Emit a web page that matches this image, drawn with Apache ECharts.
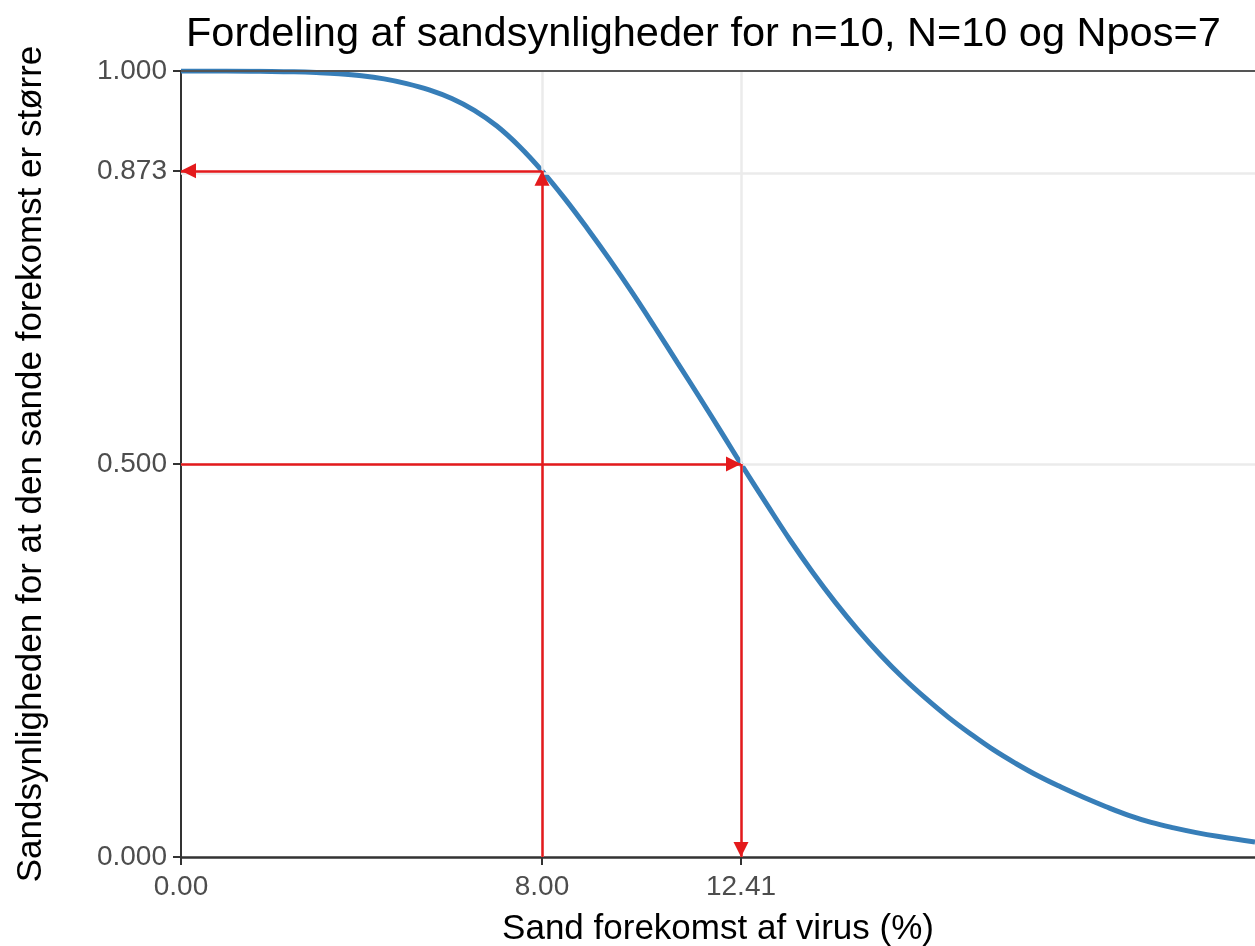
<!DOCTYPE html>
<html>
<head>
<meta charset="utf-8">
<script src="https://cdn.jsdelivr.net/npm/echarts@6/dist/echarts.min.js"></script>
<style>
  body { margin: 0; background: #fff; }
  #chart { width: 1255px; height: 946px; }
</style>
</head>
<body>
<div id="chart"></div>
<script>
    // sand forekomst (%) og sandsynlighed for at den sande forekomst er større
    var prevalence = [0, 1, 2, 2.5, 3, 3.5, 4, 4.5, 5, 5.5, 6, 6.5, 7, 7.5, 8, 8.5, 9, 9.5, 10, 10.5, 11, 11.5, 12, 12.41,
        13, 13.5, 14, 14.5, 15, 15.5, 16, 16.5, 17, 17.5, 18, 18.5, 19, 19.5, 20, 20.5, 21, 21.5, 22, 22.5, 23, 23.8];
    var probGreater = [1.000, 1.000, 0.9995, 0.999, 0.998, 0.9965, 0.994, 0.990, 0.984, 0.976, 0.965, 0.950, 0.930, 0.904,
        0.873, 0.838, 0.800, 0.760, 0.718, 0.674, 0.629, 0.584, 0.538, 0.500,
        0.447, 0.403, 0.362, 0.324, 0.289, 0.257, 0.228, 0.202, 0.178, 0.1565, 0.1365, 0.119, 0.103, 0.089,
        0.076, 0.064, 0.053, 0.044, 0.037, 0.031, 0.026, 0.019];

    var xTicks = [0, 8, 12.41];
    var yTicks = [0, 0.5, 0.873, 1];

    // punkterne som pilene peger på
    var refX = 8, refY = 0.873;
    var medX = 12.41, medY = 0.5;

    var xMax = 23.8;

    var curve = prevalence.map(function (x, i) {
        return [x, probGreater[i]];
    });

    var myChart = echarts.init(document.getElementById("chart"));

    myChart.setOption({
        animation: false,
        title: {
            text: "Fordeling af sandsynligheder for n=10, N=10 og Npos=7",
            left: 181,
            top: 9,
            textStyle: {
                fontFamily: "Liberation Sans",
                fontSize: 41.5,
                fontWeight: "normal",
                color: "#000"
            }
        },
        grid: {
            left: 181,
            right: 0,
            top: 71,
            bottom: 89,
            containLabel: false,
            outerBoundsMode: "none"
        },
        xAxis: {
            type: "value",
            min: 0,
            max: xMax,
            name: "Sand forekomst af virus (%)",
            nameLocation: "middle",
            nameGap: 55,
            nameTextStyle: {
                fontFamily: "Liberation Sans",
                fontSize: 35,
                color: "#000"
            },
            axisLine: {
                lineStyle: { color: "#333", width: 2.5 }
            },
            axisTick: {
                customValues: xTicks,
                length: 8,
                lineStyle: { color: "#333", width: 2 }
            },
            axisLabel: {
                customValues: xTicks,
                margin: 16,
                fontFamily: "Liberation Sans",
                fontSize: 28,
                color: "#4D4D4D",
                formatter: function (v) {
                    return v.toFixed(2);
                }
            },
            splitLine: { show: false }
        },
        yAxis: {
            type: "value",
            min: 0,
            max: 1,
            name: "Sandsynligheden for at den sande forekomst er større",
            nameLocation: "middle",
            nameGap: 132,
            nameTextStyle: {
                fontFamily: "Liberation Sans",
                fontSize: 35,
                color: "#000"
            },
            axisLine: {
                show: true,
                lineStyle: { color: "#333", width: 2 }
            },
            axisTick: {
                show: true,
                customValues: yTicks,
                length: 8,
                lineStyle: { color: "#333", width: 2 }
            },
            axisLabel: {
                customValues: yTicks,
                margin: 14,
                fontFamily: "Liberation Sans",
                fontSize: 28,
                color: "#4D4D4D",
                formatter: function (v) {
                    return v.toFixed(3);
                }
            },
            splitLine: { show: false }
        },
        series: [{
            // gitterlinjer
            type: "line",
            data: [],
            z: 1,
            markLine: {
                silent: true,
                symbol: ["none", "none"],
                label: { show: false },
                lineStyle: { color: "#EBEBEB", width: 2.5, type: "solid" },
                data: [
                    { xAxis: refX },
                    { xAxis: medX },
                    { yAxis: refY },
                    { yAxis: medY }
                ]
            }
        },
            {
                // røde pile, spidsen skal ramme punktet
                type: "line",
                data: [],
                z: 2,
                markLine: {
                    silent: true,
                    symbol: ["none", "triangle"],
                    symbolSize: 15,
                    symbolOffset: [[0, 0], [0, 7.5]],
                    label: { show: false },
                    lineStyle: { color: "#E41A1C", width: 2.5, type: "solid" },
                    data: [
                        [{ coord: [refX, 0] }, { coord: [refX, refY] }],
                        [{ coord: [refX, refY] }, { coord: [0, refY] }],
                        [{ coord: [0, medY] }, { coord: [medX, medY] }],
                        [{ coord: [medX, medY] }, { coord: [medX, 0] }]
                    ]
                }
            },
            {
                type: "line",
                data: curve,
                z: 3,
                smooth: 0.4,
                showSymbol: false,
                clip: true,
                lineStyle: { color: "#377EB8", width: 5 }
            },
            {
                // øverste kant
                type: "line",
                data: [],
                z: 4,
                markLine: {
                    silent: true,
                    symbol: ["none", "none"],
                    label: { show: false },
                    lineStyle: { color: "#555", width: 2, type: "solid" },
                    data: [{ yAxis: 1 }]
                }
            }
        ]
    });
</script>
</body>
</html>
